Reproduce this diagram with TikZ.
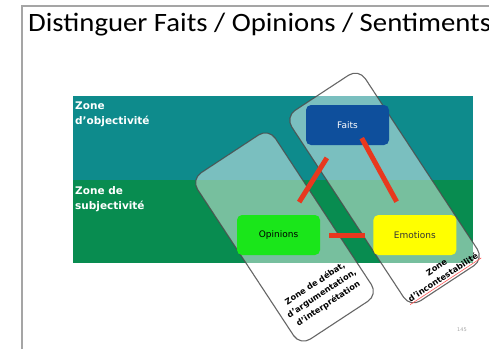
\documentclass[tikz,border=0pt]{standalone}
\usepackage{fontspec}
\setmainfont{DejaVu Sans}
\newfontfamily\titlefont{Carlito}
\usepackage{tikz}
\usetikzlibrary{calc}
\usetikzlibrary{positioning}

\definecolor{objteal}{RGB}{14,139,140}
\definecolor{subjgreen}{RGB}{8,140,80}
\definecolor{faitsblue}{RGB}{14,79,156}
\definecolor{opgreen}{RGB}{26,230,26}
\definecolor{emoyellow}{RGB}{255,255,0}
\definecolor{linkred}{RGB}{232,56,30}
\definecolor{framegray}{RGB}{165,165,165}

\tikzset{
  zonebox/.style={draw=black!70, line width=1.1pt, draw opacity=0.85, fill=white, fill opacity=0.45,
    rounded corners=12pt, inner sep=0pt, rotate=-56.7},
  zonetext/.style={rotate=33.3, align=center, inner sep=1.5pt, font=\bfseries\fontsize{8.2}{12}\selectfont},
  zonelabel/.style={anchor=north west, align=left, text=white, inner sep=0pt,
    font=\bfseries\fontsize{10.5}{15}\selectfont},
  notion/.style={rounded corners=5pt, minimum width=83pt, minimum height=40pt, inner sep=0pt,
    font=\fontsize{9}{11}\selectfont},
  link/.style={linkred, line width=5pt, shorten <=15pt, shorten >=15pt}
}

\begin{document}
\begin{tikzpicture}[x=1pt,y=-1pt]
    \useasboundingbox (0,0) rectangle (489,349);
    \fill[white] (0,0) rectangle (489,349);
    % cadre et titre
    \draw[framegray, line width=1.5pt] (22,349) -- (22,6) -- (489,6);
    \node[anchor=base west, inner sep=0pt, xscale=1.085, font=\titlefont\fontsize{26.5}{30}\selectfont] (titre) at (28,31) {Distinguer Faits / Opinions / Sentiments};

    % les deux bandes
    \fill[objteal] (73,96) rectangle (473,180);
    \fill[subjgreen] (73,180) rectangle (473,263);
    \node[zonelabel] (objectivite) at (75,102) {Zone\\d'objectivité};
    \node[zonelabel] (subjectivite) at (75,186) {Zone de\\subjectivité};

    % zones inclinees
    \node[zonebox, minimum width=199pt, minimum height=93pt] (debat) at (284.5,237) {};
    \node[zonebox, minimum width=228pt, minimum height=88pt] (incont) at (384.5,188) {};
    \node[zonetext] (debattxt) at ($(debat.center)!0.68!(debat.east)$) {Zone de débat,\\d'argumentation,\\d'interprétation};
    \node[zonetext] (inctxt) at ($(incont.center)!0.88!(incont.east)$) {Zone\\d'incontestabilité};
    \draw[red!65, line width=0.6pt] (inctxt.south west) -- (inctxt.south east);

    % faits, opinions, emotions
    \node[notion, fill=faitsblue, text=white] (faits) at (347.5,125) {Faits};
    \node[notion, fill=opgreen] (opinions) at (278.5,235) {Opinions};
    \node[notion, fill=emoyellow, text=black!80, right=53pt of opinions] (emotions) {Emotions};

    \draw[link] (faits) -- (opinions);
    \draw[link] ([xshift=7pt]faits.center) -- (emotions);
    \draw[link, shorten <=9pt, shorten >=8pt] (opinions) -- (emotions);

    \node[text=black!35, font=\fontsize{5}{6}\selectfont] (page) at (462,330) {145};
\end{tikzpicture}
\end{document}
